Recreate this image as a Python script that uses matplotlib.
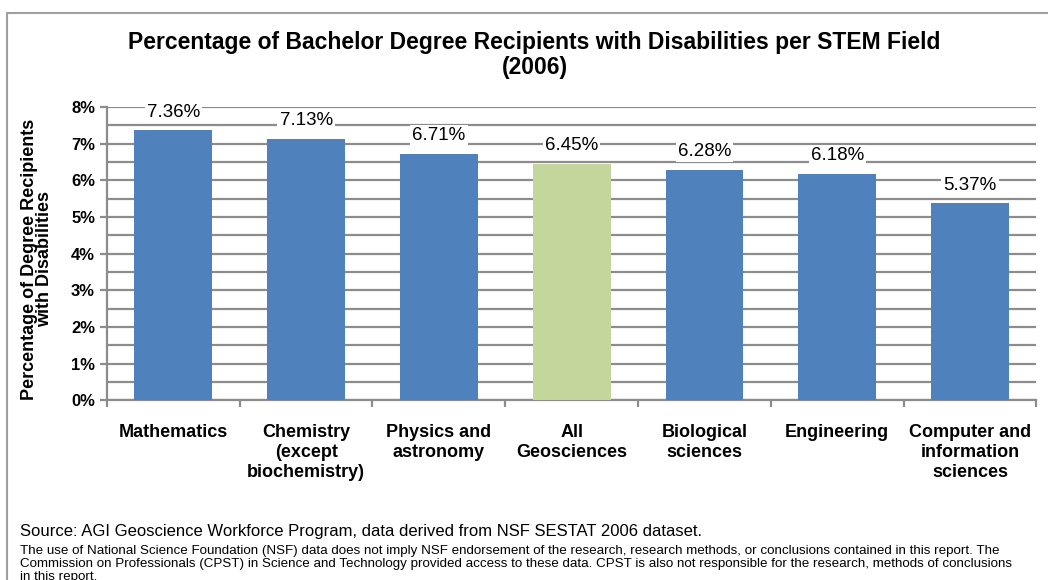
import matplotlib.pyplot as plt
from matplotlib.patches import Rectangle
from matplotlib.ticker import MultipleLocator, FuncFormatter

# data
fields = ['Mathematics', 'Chemistry\n(except\nbiochemistry)', 'Physics and\nastronomy',
          'All\nGeosciences', 'Biological\nsciences', 'Engineering',
          'Computer and\ninformation\nsciences']
pct = [7.36, 7.13, 6.71, 6.45, 6.28, 6.18, 5.37]
colors = ['#4f81bd', '#4f81bd', '#4f81bd', '#c3d69b', '#4f81bd', '#4f81bd', '#4f81bd']

plt.rcParams['font.family'] = ['Liberation Sans', 'DejaVu Sans']

fig = plt.figure(figsize=(10.48, 5.8), dpi=100)
ax = fig.add_axes([0.102, 0.31, 0.887, 0.5055])

x = range(len(fields))
ax.bar(x, pct, width=0.587, color=colors, zorder=3)
for i, v in enumerate(pct):
    ax.text(i, v + 0.5, f'{v:.2f}%', ha='center', va='center', fontsize=13.5,
            bbox=dict(facecolor='white', edgecolor='none', pad=1.5), zorder=4)

ax.set_xlim(-0.5, len(fields) - 0.5)
ax.set_ylim(0, 8)
ax.yaxis.set_major_locator(MultipleLocator(1))
ax.yaxis.set_minor_locator(MultipleLocator(0.5))
ax.yaxis.set_major_formatter(FuncFormatter(lambda v, p: f'{v:.0f}%'))
ax.grid(axis='y', which='both', color='#8c8c8c', linewidth=1.6, zorder=0)
ax.tick_params(axis='y', which='major', length=5, width=1.6, color='#8c8c8c', labelsize=12)
ax.tick_params(axis='y', which='minor', length=0)
for t in ax.get_yticklabels():
    t.set_fontweight('bold')
ax.set_xticks(list(x))
ax.set_xticklabels(fields, fontsize=13, fontweight='bold', va='top', linespacing=1.25)
ax.set_xticks([i + 0.5 for i in range(-1, len(fields))], minor=True)
ax.tick_params(axis='x', which='major', length=0, pad=17)
ax.tick_params(axis='x', which='minor', length=5, width=1.6, color='#8c8c8c')
for s in ['top', 'right']:
    ax.spines[s].set_visible(False)
ax.spines['left'].set_color('#8c8c8c')
ax.spines['left'].set_linewidth(1.6)
ax.spines['bottom'].set_color('#8c8c8c')
ax.spines['bottom'].set_linewidth(1.6)

ax.set_ylabel('Percentage of Degree Recipients\nwith Disabilities', fontsize=13,
              fontweight='bold', linespacing=0.85)
ax.yaxis.set_label_coords(-0.058, 0.48)

fig.text(0.51, 0.905, 'Percentage of Bachelor Degree Recipients with Disabilities per STEM Field\n(2006)',
         ha='center', va='center', fontsize=16.5, fontweight='bold', linespacing=1.15)

fig.text(0.019, 0.083, 'Source: AGI Geoscience Workforce Program, data derived from NSF SESTAT 2006 dataset.',
         fontsize=12, va='center')
fig.text(0.019, 0.028,
         'The use of National Science Foundation (NSF) data does not imply NSF endorsement of the research, research methods, or conclusions contained in this report. The\n'
         'Commission on Professionals (CPST) in Science and Technology provided access to these data. CPST is also not responsible for the research, methods of conclusions\n'
         'in this report.',
         fontsize=9.6, va='center', linespacing=1.12)

fig.patches.append(Rectangle((0.0067, -0.1), 1.1, 1.0776, transform=fig.transFigure,
                             fill=False, edgecolor='#a0a0a0', linewidth=1.5))

fig.savefig('out.png', dpi=100)
